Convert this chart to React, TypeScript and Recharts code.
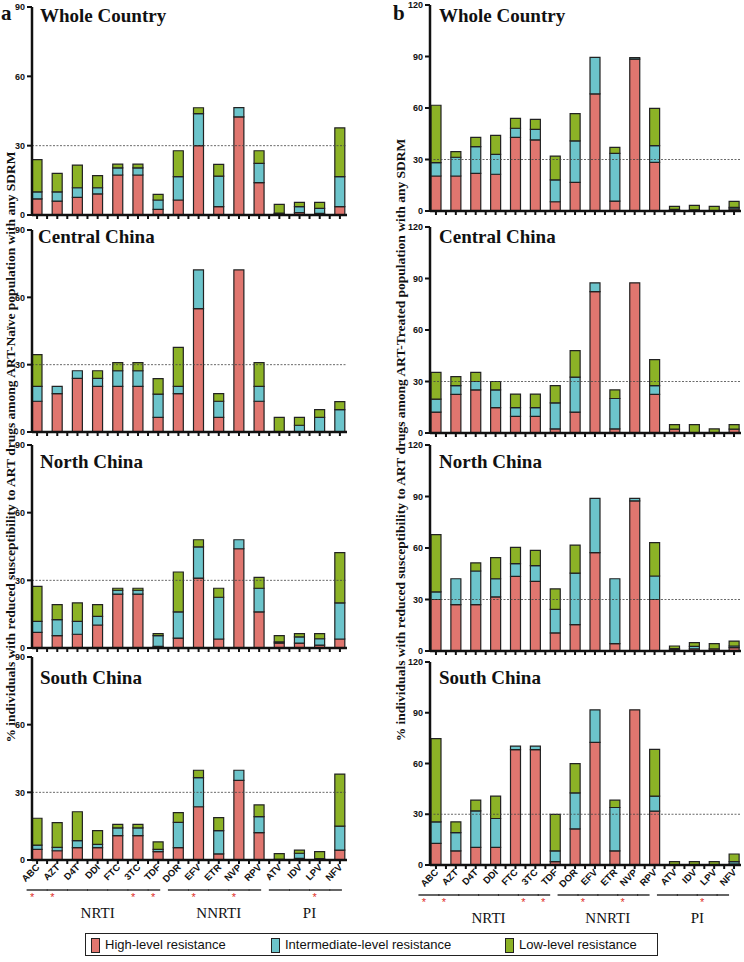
import React from 'react';
import { BarChart, Bar, XAxis, YAxis, ReferenceLine } from 'recharts';

const drugs = ['ABC', 'AZT', 'D4T', 'DDI', 'FTC', '3TC', 'TDF', 'DOR', 'EFV', 'ETR', 'NVP', 'RPV', 'ATV', 'IDV', 'LPV', 'NFV'];
const starred = ['ABC', 'AZT', '3TC', 'TDF', 'EFV', 'NVP', 'LPV'];
const drugClass = ['NRTI', 'NRTI', 'NRTI', 'NRTI', 'NRTI', 'NRTI', 'NRTI', 'NNRTI', 'NNRTI', 'NNRTI', 'NNRTI', 'NNRTI', 'PI', 'PI', 'PI', 'PI'];
const classLabelAt = ['DDI', 'ETR', 'IDV'];
const classNames = ['NRTI', 'NNRTI', 'PI'];
const classLabelDx = [0, 0, 10];

const naiveTicks = [0, 30, 60, 90];
const treatedTicks = [0, 30, 60, 90, 120];

// a: ART-naive
const naiveWholeHigh = [7, 6, 7.6, 9.1, 17.3, 17.3, 2.4, 6.5, 30, 3.6, 42.5, 14, 0.5, 1, 0.7, 3.6];
const naiveWholeInter = [3, 4, 4.2, 2.7, 3.1, 3.1, 4.1, 10.1, 13.9, 13.2, 4, 8.3, 0.3, 2.6, 2.2, 13];
const naiveWholeLow = [14, 8, 9.8, 5.2, 1.6, 1.6, 2.4, 11.2, 2.5, 5.1, 0, 5.5, 3.8, 1.9, 2.6, 21.1];

const naiveCentralHigh = [13.7, 17.1, 23.9, 20.3, 20.3, 20.3, 6.5, 17.1, 55, 6.5, 72.2, 13.7, 0, 0, 0, 0];
const naiveCentralInter = [6.6, 3.2, 3.4, 3.6, 7, 7, 10.4, 3.2, 17.2, 7.2, 0, 6.6, 0, 3, 6.5, 10];
const naiveCentralLow = [14.2, 0, 0, 3.4, 3.6, 3.6, 6.9, 17.4, 0, 3.4, 0, 10.6, 6.5, 3.5, 3.5, 3.5];

const naiveNorthHigh = [6.9, 5.5, 6.1, 10.2, 23.9, 23.9, 0.7, 4.4, 31, 4, 44, 16, 2.2, 2.2, 1.3, 4];
const naiveNorthInter = [4.9, 7.1, 5.7, 3.8, 1.7, 1.7, 4.8, 11.6, 13.8, 18.5, 4, 10.5, 0.5, 2.7, 2.8, 16];
const naiveNorthLow = [15.5, 6.6, 8.2, 5.2, 0.9, 0.9, 0.9, 17.7, 3.2, 4, 0, 4.8, 2.8, 1.5, 2.3, 22.3];

const naiveSouthHigh = [4.7, 4.1, 5.5, 5.5, 10.8, 10.8, 3.7, 5.5, 23.6, 2.7, 35.3, 12.1, 0.3, 0.7, 0.6, 4.4];
const naiveSouthInter = [1.9, 1.5, 3.1, 1.4, 3.4, 3.4, 1, 11.2, 12.9, 10.3, 4.5, 7.1, 0, 2.3, 0, 10.6];
const naiveSouthLow = [11.9, 11, 12.8, 6.1, 1.6, 1.6, 3.3, 4.3, 3.3, 5.8, 0, 5.2, 2.5, 1.4, 3.1, 23.1];

// b: ART-treated
const treatedWholeHigh = [20.4, 20.4, 21.9, 21.4, 42.9, 41.4, 5.4, 16.7, 68.2, 5.8, 88.5, 28.3, 0.6, 0.6, 0.3, 1.2];
const treatedWholeInter = [7.8, 10.9, 15.6, 11.6, 5.3, 6.2, 12.7, 24.1, 21.3, 27.8, 0.8, 9.8, 0.3, 0, 0, 0.9];
const treatedWholeLow = [33.4, 3.3, 5.4, 11.1, 5.8, 5.8, 13.9, 15.9, 0, 3.5, 0, 21.7, 1.8, 2.7, 2.4, 3.5];

const treatedCentralHigh = [12.2, 22.5, 25.1, 14.8, 9.7, 9.7, 2.4, 12.2, 82.4, 2.4, 87.5, 22.5, 2.2, 0, 0, 2.2];
const treatedCentralInter = [7.5, 5.1, 4.9, 10.3, 5.1, 5.1, 15.2, 20.4, 5.1, 17.7, 0, 5.1, 0, 0, 0, 0];
const treatedCentralLow = [15.6, 5.2, 5.3, 4.9, 7.9, 7.9, 10, 15.4, 0, 5, 0, 15.2, 2.7, 4.9, 2.4, 2.7];

const treatedNorthHigh = [30, 27, 27, 31.5, 43.5, 40.6, 10.5, 15.4, 57.3, 4.3, 87.4, 30, 0.8, 1.2, 1.2, 2];
const treatedNorthInter = [4.4, 15.1, 19.6, 10.6, 7.4, 9.1, 13.7, 30, 31.6, 37.8, 1.5, 13.7, 0.6, 1.5, 0, 0.9];
const treatedNorthLow = [33.4, 0, 4.7, 12.3, 9.5, 8.9, 12, 16.3, 0, 0, 0, 19.4, 1.5, 2.2, 3.1, 2.9];

const treatedSouthHigh = [12.8, 8.4, 10.4, 10.4, 68.2, 68.2, 2, 21.4, 72.5, 8.4, 91.7, 31.8, 0, 0, 0, 0.6];
const treatedSouthInter = [12.7, 10.7, 21.6, 17.1, 2.1, 2.1, 6.4, 21.2, 19.2, 25.6, 0, 8.9, 0, 0, 0, 1.4];
const treatedSouthLow = [49.2, 6.4, 6.3, 13.2, 0, 0, 21.5, 17.3, 0, 4.3, 0, 27.7, 2, 2, 2, 4.5];

const HIGH = '#E0766F';
const INTER = '#6CC4CB';
const LOW = '#8CB226';
const INK = '#111';

const SANS = 'Liberation Sans, Arial, sans-serif';
const SERIF = 'Liberation Serif, Times New Roman, serif';

const DrugTick = (props: any, labels: boolean, shift: number) => {
  const { x, y, payload } = props;
  const name = payload.value;
  const i = drugs.indexOf(name);
  const cls = drugClass[i];
  const last = i === drugs.length - 1 || drugClass[i + 1] !== cls;
  const ci = classLabelAt.indexOf(name);
  return (
    <g>
      <line x1={x} x2={x} y1={y} y2={y + 4} stroke={INK} strokeWidth={2} />
      {i < drugs.length - 1 && <line x1={x + 10} x2={x + 10} y1={y} y2={y + 4} stroke={INK} strokeWidth={2} />}
      {labels && (
        <g>
          <text
            x={x + 3}
            y={y + 8}
            transform={`rotate(-45, ${x + 3}, ${y + 8})`}
            textAnchor="end"
            fontSize={9.5}
            fontWeight="bold"
            fontFamily={SANS}
            fill={INK}
          >
            {name}
          </text>
          <line
            x1={x - 10.5 + shift}
            x2={(last ? x + 2 : x + 10.5) + shift}
            y1={y + 30}
            y2={y + 30}
            stroke={INK}
            strokeWidth={1.3}
          />
          {starred.includes(name) && (
            <text x={x - 5 + shift} y={y + 41} textAnchor="middle" fontSize={11} fill="#E0302A" fontFamily={SANS}>
              *
            </text>
          )}
          {ci >= 0 && (
            <text x={x + classLabelDx[ci] + shift} y={y + 58} textAnchor="middle" fontSize={15} fontFamily={SERIF} fill={INK}>
              {classNames[ci]}
            </text>
          )}
        </g>
      )}
    </g>
  );
};

type PanelProps = {
  left: number;
  top: number;
  bottom: number;
  width: number;
  yMax: number;
  ticks: number[];
  high: number[];
  inter: number[];
  low: number[];
  isLast?: boolean;
  padL: number;
  padR: number;
  shift: number;
};

const Panel = ({ left, top, bottom, width, yMax, ticks, high, inter, low, isLast, padL, padR, shift }: PanelProps) => {
  const data = drugs.map((d, i) => ({ drug: d, high: high[i], inter: inter[i], low: low[i] }));
  const mTop = 8;
  const xh = isLast ? 72 : 8;
  const h = mTop + (bottom - top) + xh;
  return (
    <div style={{ position: 'absolute', left, top: top - mTop }}>
      <BarChart width={width} height={h} data={data} margin={{ top: mTop, right: 2, left: 0, bottom: 0 }} barSize={10}>
        <XAxis
          dataKey="drug"
          height={xh}
          interval={0}
          tickSize={0}
          tickMargin={0}
          tickLine={false}
          axisLine={{ stroke: INK, strokeWidth: 2.5 }}
          padding={{ left: padL, right: padR }}
          tick={(p: any) => DrugTick(p, !!isLast, shift)}
        />
        <YAxis
          width={30}
          domain={[0, yMax]}
          ticks={ticks}
          interval={0}
          allowDataOverflow
          tickSize={5}
          tickMargin={2}
          axisLine={{ stroke: INK, strokeWidth: 2.5 }}
          tickLine={{ stroke: INK, strokeWidth: 2 }}
          tick={{ fontSize: 9, fontWeight: 'bold', fill: INK, fontFamily: SANS }}
        />
        <ReferenceLine y={30} stroke="#444" strokeWidth={0.8} strokeDasharray="2 1.5" />
        <Bar dataKey="high" stackId="s" fill={HIGH} stroke="#222" strokeWidth={1.2} isAnimationActive={false} />
        <Bar dataKey="inter" stackId="s" fill={INTER} stroke="#222" strokeWidth={1.2} isAnimationActive={false} />
        <Bar dataKey="low" stackId="s" fill={LOW} stroke="#222" strokeWidth={1.2} isAnimationActive={false} />
      </BarChart>
    </div>
  );
};

const leftCol = { left: 2, width: 347, yMax: 90, ticks: naiveTicks, padL: -5, padR: -3, shift: 0 };
const rightCol = { left: 400, width: 343, yMax: 120, ticks: treatedTicks, padL: -4, padR: -3, shift: -7 };

const titleStyle = { fontFamily: SERIF, fontWeight: 'bold' as const, fontSize: 19, fill: INK };

const LegendItem = ({ color, label, x }: { color: string; label: string; x: number }) => (
  <div style={{ position: 'absolute', left: x, top: 3, display: 'flex', alignItems: 'center' }}>
    <div style={{ width: 7, height: 13, background: color, border: '1.5px solid #222', marginRight: 5 }} />
    <span style={{ fontFamily: SANS, fontSize: 13, color: INK, lineHeight: '16px', whiteSpace: 'nowrap' }}>{label}</span>
  </div>
);

export default function App() {
  return (
    <div style={{ position: 'absolute', left: 0, top: 0, width: 744, height: 962, background: '#fff', overflow: 'hidden' }}>
      <Panel {...leftCol} top={7} bottom={215} high={naiveWholeHigh} inter={naiveWholeInter} low={naiveWholeLow} />
      <Panel {...leftCol} top={230} bottom={432} high={naiveCentralHigh} inter={naiveCentralInter} low={naiveCentralLow} />
      <Panel {...leftCol} top={445} bottom={648} high={naiveNorthHigh} inter={naiveNorthInter} low={naiveNorthLow} />
      <Panel {...leftCol} top={657} bottom={860} high={naiveSouthHigh} inter={naiveSouthInter} low={naiveSouthLow} isLast />

      <Panel {...rightCol} top={5} bottom={211} high={treatedWholeHigh} inter={treatedWholeInter} low={treatedWholeLow} />
      <Panel {...rightCol} top={227} bottom={433} high={treatedCentralHigh} inter={treatedCentralInter} low={treatedCentralLow} />
      <Panel {...rightCol} top={445} bottom={651} high={treatedNorthHigh} inter={treatedNorthInter} low={treatedNorthLow} />
      <Panel {...rightCol} top={662} bottom={865} high={treatedSouthHigh} inter={treatedSouthInter} low={treatedSouthLow} isLast />

      <svg width={744} height={962} style={{ position: 'absolute', left: 0, top: 0, pointerEvents: 'none' }}>
        <text x={1} y={20} fontFamily={SERIF} fontWeight="bold" fontSize={21} fill={INK}>a</text>
        <text x={393} y={20} fontFamily={SERIF} fontWeight="bold" fontSize={21} fill={INK}>b</text>

        <text x={40} y={22} {...titleStyle}>Whole Country</text>
        <text x={38} y={243} {...titleStyle}>Central China</text>
        <text x={40} y={468} {...titleStyle}>North China</text>
        <text x={40} y={684} {...titleStyle}>South China</text>

        <text x={439} y={22} {...titleStyle}>Whole Country</text>
        <text x={439} y={243} {...titleStyle}>Central China</text>
        <text x={439} y={468} {...titleStyle}>North China</text>
        <text x={439} y={684} {...titleStyle}>South China</text>

        <text
          x={15}
          y={447}
          transform="rotate(-90, 15, 447)"
          textAnchor="middle"
          fontFamily={SERIF}
          fontWeight="bold"
          fontSize={13.5}
          fill={INK}
        >
          % individuals with reduced susceptibility to ART drugs among ART-Naïve population with any SDRM
        </text>
        <text
          x={405}
          y={440}
          transform="rotate(-90, 405, 440)"
          textAnchor="middle"
          fontFamily={SERIF}
          fontWeight="bold"
          fontSize={13.5}
          fill={INK}
        >
          % individuals with reduced susceptibility to ART drugs among ART-Treated population with any SDRM
        </text>
      </svg>

      <div style={{ position: 'absolute', left: 85, top: 933, width: 571, height: 21, border: '1px solid #222' }}>
        <LegendItem color={HIGH} label="High-level resistance" x={5} />
        <LegendItem color={INTER} label="Intermediate-level resistance" x={185} />
        <LegendItem color={LOW} label="Low-level resistance" x={419} />
      </div>
    </div>
  );
}
